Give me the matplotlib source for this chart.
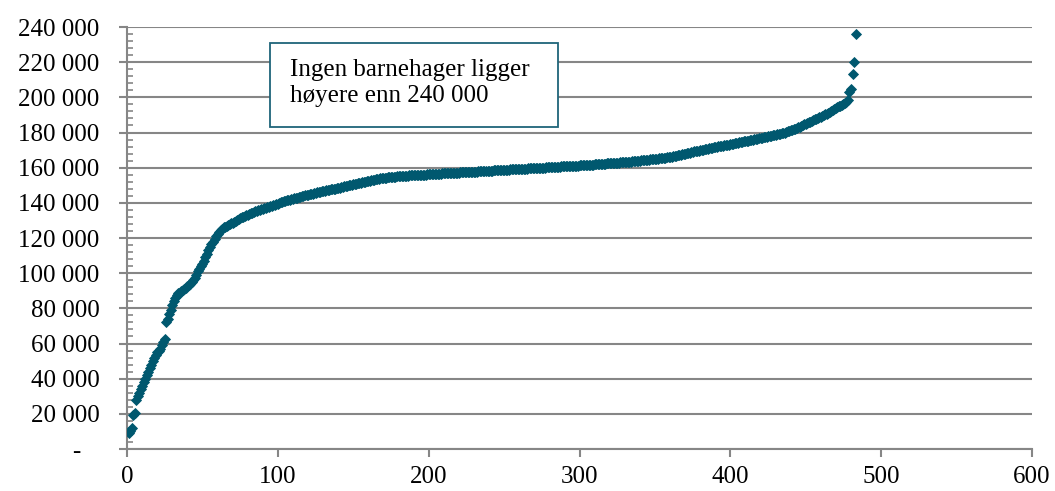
#!/usr/bin/env python3
# -*- coding: utf-8 -*-

import numpy as np
import matplotlib
matplotlib.use("Agg")
import matplotlib.pyplot as plt
from matplotlib.patches import Rectangle
from matplotlib.ticker import MultipleLocator, FuncFormatter

# kostnad per barnehage (1000 kr), sortert stigende
kostnad_tusen = [
    9.3, 10.5, 12.0, 19.5, 20.5, 28.0, 30.0, 32.0, 34.0, 36.0,
    38.0, 40.0, 42.0, 44.0, 46.0, 48.0, 50.0, 52.0, 53.5, 55.0,
    56.0, 57.0, 59.0, 61.0, 62.5, 72.0, 74.0, 77.0, 79.0, 82.0,
    84.0, 86.0, 87.5, 88.5, 89.0, 89.8, 90.5, 91.0, 91.8, 92.5,
    93.0, 94.0, 95.0, 96.0, 97.5, 99.0, 101.0, 102.5, 104.0, 105.5,
    107.0, 109.0, 111.0, 113.0, 115.0, 116.5, 118.0, 119.5, 121.0, 122.5,
    123.5, 124.5, 125.3, 126.0, 126.5, 127.0, 127.4, 127.8, 128.3, 128.8,
    129.3, 129.8, 130.3, 130.8, 131.3, 131.7, 132.1, 132.5, 132.9, 133.3,
    133.7, 134.1, 134.5, 134.8, 135.1, 135.4, 135.7, 136.0, 136.3, 136.6,
    136.9, 137.2, 137.5, 137.8, 138.1, 138.4, 138.7, 139.0, 139.3, 139.6,
    139.9, 140.2, 140.5, 140.8, 141.1, 141.4, 141.6, 141.8, 142.0, 142.2,
    142.5, 142.8, 143.0, 143.3, 143.6, 143.9, 144.1, 144.3, 144.5, 144.7,
    144.9, 145.1, 145.3, 145.5, 145.7, 145.9, 146.1, 146.3, 146.5, 146.7,
    146.9, 147.1, 147.3, 147.5, 147.6, 147.8, 148.0, 148.1, 148.3, 148.5,
    148.7, 148.9, 149.1, 149.3, 149.5, 149.7, 149.9, 150.1, 150.3, 150.5,
    150.7, 150.9, 151.1, 151.3, 151.5, 151.7, 151.9, 152.1, 152.3, 152.5,
    152.7, 152.9, 153.0, 153.2, 153.4, 153.5, 153.7, 153.9, 154.0, 154.2,
    154.3, 154.4, 154.5, 154.6, 154.7, 154.8, 154.8, 154.9, 155.0, 155.1,
    155.2, 155.2, 155.3, 155.4, 155.4, 155.5, 155.6, 155.6, 155.7, 155.7,
    155.8, 155.8, 155.9, 155.9, 156.0, 156.0, 156.1, 156.1, 156.2, 156.2,
    156.3, 156.3, 156.4, 156.4, 156.5, 156.5, 156.6, 156.6, 156.7, 156.7,
    156.8, 156.8, 156.9, 156.9, 157.0, 157.0, 157.1, 157.1, 157.2, 157.2,
    157.3, 157.3, 157.4, 157.4, 157.5, 157.5, 157.6, 157.6, 157.7, 157.7,
    157.8, 157.8, 157.9, 157.9, 158.0, 158.0, 158.1, 158.1, 158.2, 158.2,
    158.3, 158.3, 158.4, 158.4, 158.5, 158.5, 158.6, 158.6, 158.7, 158.8,
    158.8, 158.9, 158.9, 159.0, 159.0, 159.1, 159.1, 159.2, 159.2, 159.3,
    159.3, 159.4, 159.4, 159.5, 159.5, 159.6, 159.6, 159.7, 159.7, 159.8,
    159.8, 159.9, 159.9, 160.0, 160.0, 160.1, 160.1, 160.2, 160.2, 160.3,
    160.3, 160.4, 160.4, 160.5, 160.5, 160.6, 160.6, 160.7, 160.7, 160.8,
    160.8, 160.9, 160.9, 161.0, 161.0, 161.1, 161.1, 161.2, 161.2, 161.3,
    161.3, 161.4, 161.4, 161.5, 161.6, 161.6, 161.7, 161.7, 161.8, 161.9,
    161.9, 162.0, 162.0, 162.1, 162.2, 162.2, 162.3, 162.4, 162.4, 162.5,
    162.6, 162.6, 162.7, 162.8, 162.8, 162.9, 163.0, 163.0, 163.1, 163.2,
    163.3, 163.3, 163.4, 163.5, 163.6, 163.6, 163.7, 163.8, 163.9, 164.0,
    164.1, 164.2, 164.3, 164.4, 164.5, 164.6, 164.7, 164.8, 164.9, 165.0,
    165.1, 165.2, 165.3, 165.4, 165.5, 165.6, 165.7, 165.8, 165.9, 166.0,
    166.2, 166.4, 166.6, 166.8, 167.0, 167.2, 167.4, 167.6, 167.8, 168.0,
    168.2, 168.4, 168.6, 168.8, 169.0, 169.2, 169.3, 169.5, 169.7, 169.9,
    170.0, 170.2, 170.4, 170.6, 170.8, 171.0, 171.2, 171.4, 171.6, 171.8,
    172.0, 172.2, 172.3, 172.5, 172.6, 172.7, 172.8, 172.9, 173.0, 173.2,
    173.4, 173.6, 173.8, 174.0, 174.2, 174.4, 174.5, 174.7, 174.9, 175.0,
    175.2, 175.4, 175.6, 175.8, 176.0, 176.2, 176.4, 176.5, 176.7, 176.9,
    177.0, 177.2, 177.4, 177.6, 177.8, 178.0, 178.2, 178.4, 178.6, 178.8,
    179.0, 179.2, 179.4, 179.6, 179.8, 180.0, 180.3, 180.6, 180.9, 181.2,
    181.5, 181.8, 182.2, 182.6, 183.0, 183.4, 183.8, 184.2, 184.6, 185.0,
    185.4, 185.8, 186.2, 186.6, 187.0, 187.4, 187.8, 188.2, 188.6, 189.0,
    189.4, 189.8, 190.3, 190.8, 191.3, 191.8, 192.3, 192.8, 193.3, 193.8,
    194.3, 194.8, 195.3, 195.8, 196.3, 196.8, 197.5, 198.5, 203.0, 205.0,
    213.0, 220.0, 236.0,
]

boks_tekst = "Ingen barnehager ligger\nhøyere enn 240 000"

farge = "#00586F"
grå = "#868686"

plt.rcParams['font.family'] = ['Liberation Serif', 'DejaVu Serif']

verdier = np.array(kostnad_tusen) * 1000
rang = np.arange(1, len(verdier) + 1)

fig = plt.figure(figsize=(10.55, 4.91), dpi=100)
ax = fig.add_axes([0.1204, 0.0855, 0.8578, 0.8595])

ax.plot(rang, verdier, linestyle="none", marker="D", markersize=4.6,
        color=farge, markeredgecolor=farge, markeredgewidth=0.6, zorder=3)

ax.set_xlim(0, 600)
ax.set_ylim(0, 240000)
ax.xaxis.set_major_locator(MultipleLocator(100))
ax.yaxis.set_major_locator(MultipleLocator(20000))
ax.yaxis.set_minor_locator(MultipleLocator(4000))

def fmt_y(v, pos):
    if v == 0:
        return "-   "
    return "{:,.0f}".format(v).replace(",", " ")

ax.yaxis.set_major_formatter(FuncFormatter(fmt_y))

ax.grid(axis="y", which="major", color=grå, linewidth=1.5, zorder=1)
ax.set_axisbelow(True)

for s in ["top", "right"]:
    ax.spines[s].set_visible(False)
for s in ["left", "bottom"]:
    ax.spines[s].set_color(grå)
    ax.spines[s].set_linewidth(1.5)

ax.tick_params(axis="y", which="major", direction="out", length=5.7, width=1.5,
               color=grå, labelsize=18, pad=14)
ax.tick_params(axis="y", which="minor", direction="in", length=4, width=1.2,
               color=grå)
ax.tick_params(axis="x", which="major", direction="out", length=6, width=1.5,
               color=grå, labelsize=18, pad=6)

# tekstboks
ax.add_patch(Rectangle((0.158, 0.763), 0.318, 0.199, transform=ax.transAxes,
                       facecolor="white", edgecolor="#1F6479", linewidth=1.3,
                       zorder=4))
ax.text(0.180, 0.8670, boks_tekst, transform=ax.transAxes, fontsize=18,
        va="center", ha="left", linespacing=1.25, zorder=5)

fig.savefig("out.png", dpi=100)
